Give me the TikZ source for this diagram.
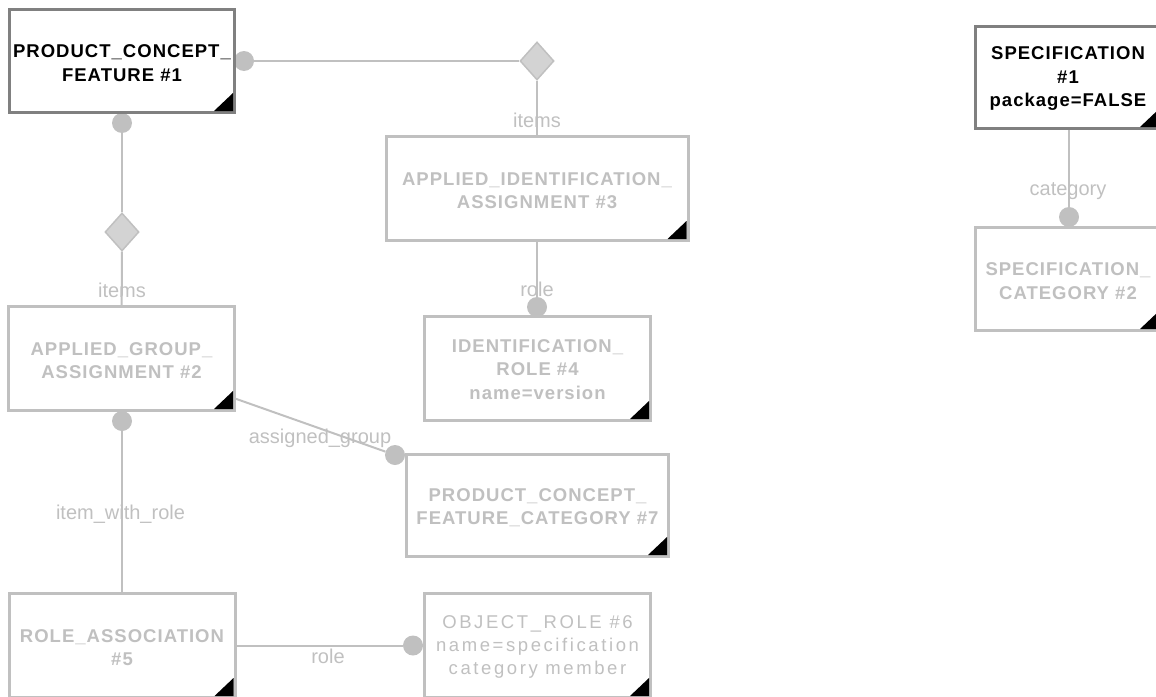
\documentclass[tikz,border=0pt]{standalone}
\usepackage{fontspec}
\newfontfamily\boxfont{Liberation Sans}[LetterSpace=5.5]
\newfontfamily\regfont{Liberation Sans}[LetterSpace=14]
\newfontfamily\labfont{Liberation Sans}
\usetikzlibrary{shapes.geometric}
\pgfdeclarelayer{bg}
\pgfdeclarelayer{mid}
\pgfsetlayers{bg,mid,main}
\definecolor{lg}{RGB}{192,192,192}
\definecolor{dg}{RGB}{128,128,128}
\definecolor{df}{RGB}{211,211,211}
\begin{document}
\begin{tikzpicture}[x=1pt,y=-1pt,
  box/.style={draw=lg, line width=3pt, fill=white, inner sep=0pt},
  dbox/.style={box, draw=dg},
  btext/.style={inner sep=0pt, align=center, text=lg,
    font={\boxfont\bfseries\fontsize{18.5}{23.5}\selectfont}},
  dtext/.style={btext, text=black},
  dot/.style={circle, fill=lg, inner sep=0pt, minimum size=20pt},
  dia/.style={diamond, draw=lg, fill=df, line width=1.5pt, inner sep=0pt, minimum width=34pt, minimum height=38pt},
  conn/.style={draw=lg, line width=2pt},
  lab/.style={text=lg, font={\labfont\fontsize{20}{24}\selectfont}, anchor=base, inner sep=0pt}]
\useasboundingbox (0,0) rectangle (1156,696);
\clip (0,0) rectangle (1156,696);
% boxes
\node[dbox, minimum width=225pt, minimum height=103pt] (n1) at (122,61) {};
\node[box, minimum width=302pt, minimum height=104pt] (n3) at (537,188.5) {};
\node[box, minimum width=226pt, minimum height=104pt] (n2) at (121.5,358.5) {};
\node[box, minimum width=226pt, minimum height=104pt] (n4) at (537.5,368.5) {};
\node[box, minimum width=262pt, minimum height=102pt] (n7) at (537.5,505.5) {};
\node[box, minimum width=226pt, minimum height=104pt] (n5) at (122,645.5) {};
\node[box, minimum width=226pt, minimum height=104pt] (n6) at (537.5,645.5) {};
\node[dbox, minimum width=185pt, minimum height=102pt] (s1) at (1068,77.5) {};
\node[box, minimum width=185pt, minimum height=103pt] (s2) at (1068,279) {};
\foreach \n in {n1,n2,n3,n4,n5,n6,n7,s1,s2}
  \fill (\n.south east) ++(-3pt,3pt) -- ++(-19pt,0pt) -- ++(19pt,18pt) -- cycle;
% box texts
\node[dtext] (t1) at ([yshift=-2pt]n1.center) {PRODUCT\_CONCEPT\_\\FEATURE \#1};
\node[btext] (t3) at ([yshift=-2pt]n3.center) {APPLIED\_IDENTIFICATION\_\\ASSIGNMENT \#3};
\node[btext] (t2) at ([yshift=-2pt]n2.center) {APPLIED\_GROUP\_\\ASSIGNMENT \#2};
\node[btext] (t4) at ([yshift=-1pt]n4.center) {IDENTIFICATION\_\\ROLE \#4\\name=version};
\node[btext] (t7) at ([yshift=-2pt]n7.center) {PRODUCT\_CONCEPT\_\\FEATURE\_CATEGORY \#7};
\node[btext] (t5) at ([yshift=-2pt]n5.center) {ROLE\_ASSOCIATION\\\#5};
\node[btext, font={\regfont\fontsize{18.5}{23}\selectfont}] (t6) at ([yshift=-1pt]n6.center) {OBJECT\_ROLE \#6\\name=specification\\category member};
\node[dtext] (ts1) at ([yshift=-1pt]s1.center) {SPECIFICATION\\\#1\\package=FALSE};
\node[btext] (ts2) at ([yshift=-2pt]s2.center) {SPECIFICATION\_\\CATEGORY \#2};
% diamonds
\node[dia] (d1) at (537,61) {};
\node[dia] (d2) at (122,232) {};
% dots
\begin{pgfonlayer}{mid}
\node[dot] (p1r) at (244,61) {};
\node[dot] (p1b) at (122,123) {};
\node[dot] (p2b) at (122,421) {};
\node[dot] (p7) at (395,455) {};
\node[dot] (p4) at (537,307) {};
\node[dot] (p6) at (413,645.5) {};
\node[dot] (ps2) at (1069,217) {};
\end{pgfonlayer}
% connectors
\begin{pgfonlayer}{bg}
\draw[conn] (p1r) -- (d1);
\draw[conn] (d1) -- (d1 |- n3.north);
\draw[conn] (p1b) -- (d2);
\draw[conn] (d2) -- (n2);
\draw[conn] (p2b) -- (n5);
\draw[conn] (n2) -- (p7);
\draw[conn] (n3.south -| p4) -- (p4);
\draw[conn] (n5) -- (p6);
\draw[conn] (s1.south -| ps2) -- (ps2);
\end{pgfonlayer}
% labels
\node[lab] (l1) at (537,127) {items};
\node[lab] (l2) at (122,297) {items};
\node[lab] (l3) at (537,296) {role};
\node[lab] (l4) at (320,443) {assigned\_group};
\node[lab] (l5) at (120.5,519) {item\_with\_role};
\node[lab] (l6) at (328,663) {role};
\node[lab] (l7) at (1068,195) {category};
\end{tikzpicture}
\end{document}
